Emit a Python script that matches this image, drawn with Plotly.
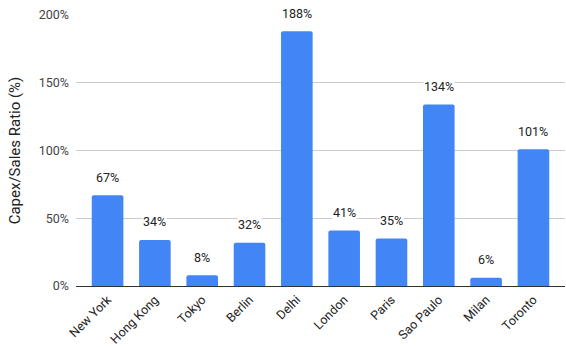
import plotly.graph_objects as go

cities = ["New York", "Hong Kong", "Tokyo", "Berlin", "Delhi", "London", "Paris", "Sao Paulo", "Milan", "Toronto"]
ratios = [67, 34, 8, 32, 188, 41, 35, 134, 6, 101]
tick_vals = [0, 50, 100, 150, 200]
tick_text = ["0%", "50%", "100%", "150%", "200%"]

fig = go.Figure()
fig.add_trace(go.Bar(
    x=list(range(len(cities))), y=ratios,
    marker=dict(color="#4285F4", cornerradius=2, line=dict(width=0)),
    width=0.668,
    hoverinfo="skip",
))
for i, v in enumerate(ratios):
    fig.add_annotation(x=i, y=v, text=f"{v}%", showarrow=False,
                       yanchor="middle", yshift=18, bgcolor="white",
                       font=dict(family="Roboto", size=12.5, color="#222222"),
                       borderpad=0)

fig.update_layout(
    width=566, height=347,
    margin=dict(l=76, r=1, t=15, b=61),
    paper_bgcolor="white", plot_bgcolor="white",
    font=dict(family="Roboto", size=12, color="#444444"),
    showlegend=False,
    xaxis=dict(
        tickmode="array", tickvals=list(range(len(cities))), ticktext=cities,
        tickangle=-45, range=[-0.667, 9.667], showgrid=False, zeroline=False,
        showline=False, ticks="", tickfont=dict(size=12.5, color="#222222"),
        automargin=False, ticklabelstandoff=3,
    ),
    yaxis=dict(
        range=[0, 200], tickvals=tick_vals, ticktext=tick_text,
        showgrid=True, gridcolor="#cccccc", gridwidth=1,
        zeroline=True, zerolinecolor="#333333", zerolinewidth=1,
        ticks="", tickfont=dict(size=12.5, color="#444444"),
        automargin=False, ticklabelstandoff=6,
        title=dict(text="Capex/Sales Ratio (%)", font=dict(size=15, color="#222222"), standoff=14),
    ),
)
fig.write_html("out.html", config={"displayModeBar": False},
               post_script="document.body.style.margin='0';document.body.style.overflow='hidden';")
